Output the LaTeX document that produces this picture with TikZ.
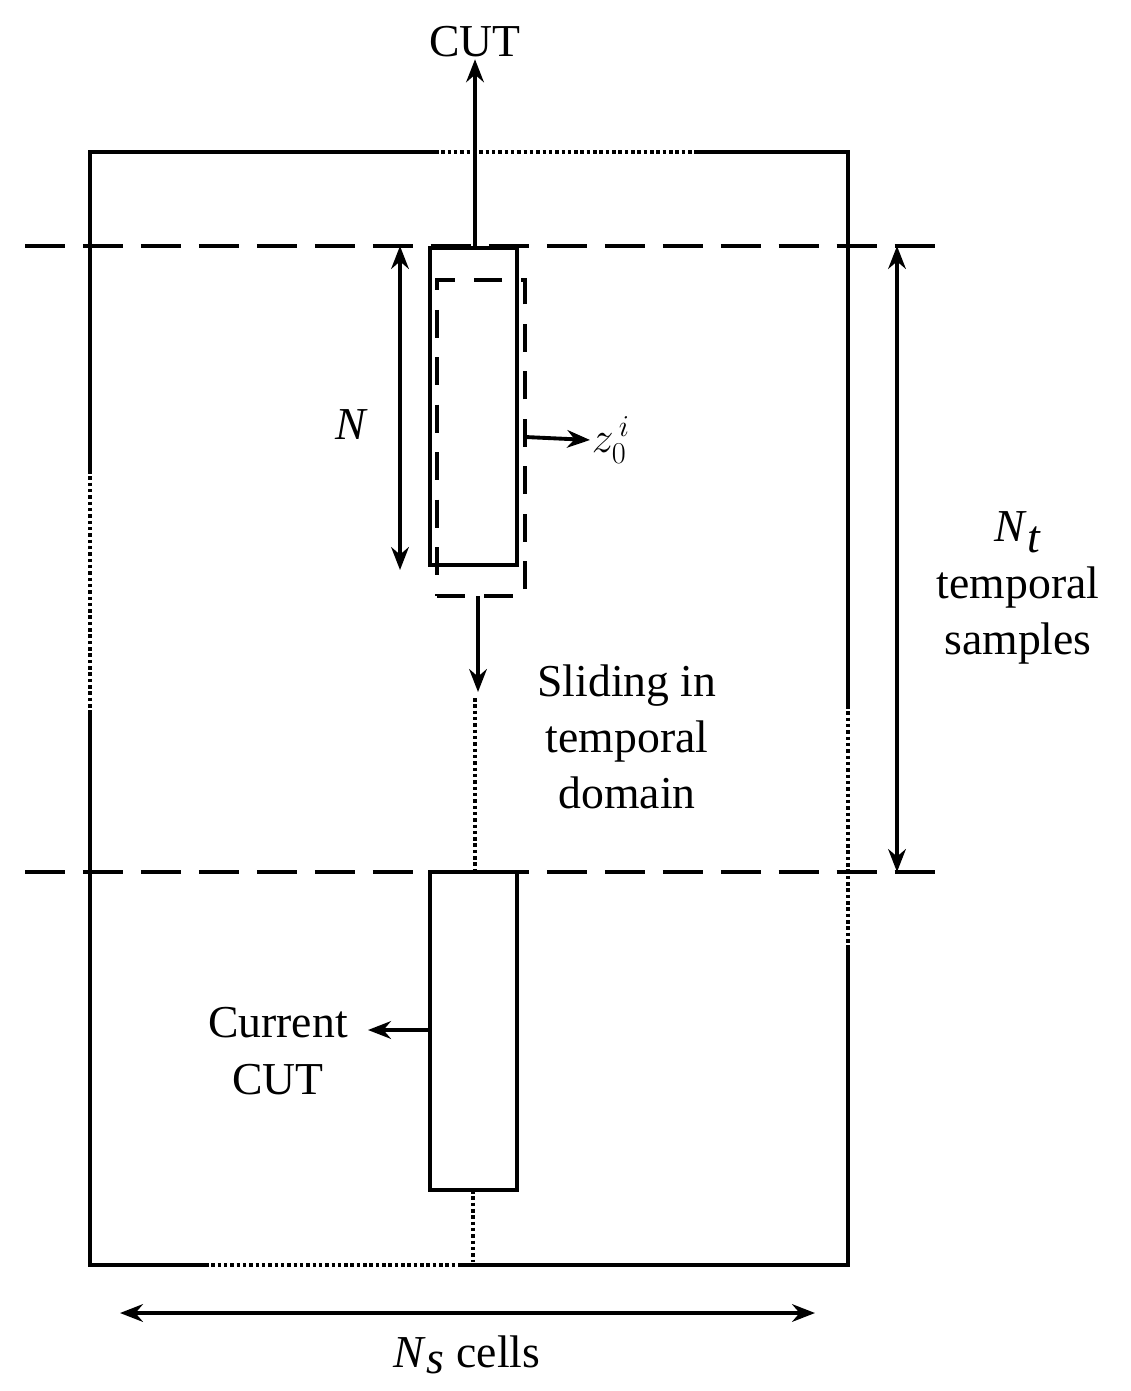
\documentclass[tikz,border=0pt]{standalone}
\usepackage{fontspec}
\setmainfont{Liberation Serif}
\usetikzlibrary{arrows.meta}
\begin{document}
\begin{tikzpicture}[x=0.02cm,y=-0.02cm,line width=2.2pt,
  dotline/.style={line width=2pt,dash pattern=on 2pt off 1.6pt},
  longdash/.style={dash pattern=on 23pt off 10pt},
  rectdash/.style={dash pattern=on 16pt off 11pt},
  arr/.style={-{Stealth[length=13pt,width=10pt]}},
  darr/.style={{Stealth[length=13pt,width=10pt]}-{Stealth[length=13pt,width=10pt]}},
  lbl/.style={font=\fontsize{26}{32}\selectfont,align=center,inner sep=0pt}]
\useasboundingbox (0,0) rectangle (1131,1391);
% outer rectangle
\coordinate (tl) at (90,152); \coordinate (tr) at (848,152);
\coordinate (bl) at (90,1265); \coordinate (br) at (848,1265);
\draw (435,152) -- (tl) -- (90,470);
\draw[dotline] (435,152) -- (695,152);
\draw (695,152) -- (tr) -- (848,705);
\draw[dotline] (90,470) -- (90,710);
\draw (90,710) -- (bl) -- (205,1265);
\draw[dotline] (205,1265) -- (460,1265);
\draw (460,1265) -- (br) -- (848,945);
\draw[dotline] (848,705) -- (848,945);
% dashed horizontals
\draw[longdash] (25,246) -- (945,246);
\draw[longdash] (25,872) -- (945,872);
% top window
\node[draw,minimum width=87*0.02cm,minimum height=317*0.02cm,inner sep=0pt] (win) at (473.5,406.5) {};
\node[draw,rectdash,minimum width=88*0.02cm,minimum height=316*0.02cm,inner sep=0pt] (win2) at (481,438) {};
\node[lbl] (cut) at (475,42) {CUT};
\draw[arr] (475,246) -- (cut.south);
\coordinate (na) at (400,246); \coordinate (nb) at (400,570);
\draw[darr] (na) -- (nb);
\node[lbl] (N) at (352,425) {\textit{N}};
\node[lbl,anchor=west] (z) at (590,440) {$z_0^{\,i}$};
\draw[arr] (525,437) -- (z.west);
\coordinate (sa) at (478,596); \coordinate (sb) at (478,692);
\draw[arr] (sa) -- (sb);
\draw[dotline] (475,698) -- (475,870);
\node[lbl] (slide) at (627,737) {Sliding in\\temporal\\domain};
% bottom CUT
\node[draw,minimum width=87*0.02cm,minimum height=318*0.02cm,inner sep=0pt] (cur) at (473.5,1031) {};
\draw[dotline] (473,1190) -- (473,1262);
\node[lbl] (curl) at (278,1051) {Current\\CUT};
\coordinate (ca) at (430,1030); \coordinate (cb) at (368,1030);
\draw[arr] (ca) -- (cb);
% Nt
\coordinate (ta) at (897,246); \coordinate (tb) at (897,872);
\draw[darr] (ta) -- (tb);
\node[lbl] (nt) at (1018,588) {\textit{N}$_{\textit{t}}$\\temporal\\samples};
% Ns
\coordinate (xa) at (120,1313); \coordinate (xb) at (815,1313);
\draw[darr] (xa) -- (xb);
\node[lbl] (ns) at (467,1355) {\textit{N}$_{\textit{s}}$ cells};
\end{tikzpicture}
\end{document}
